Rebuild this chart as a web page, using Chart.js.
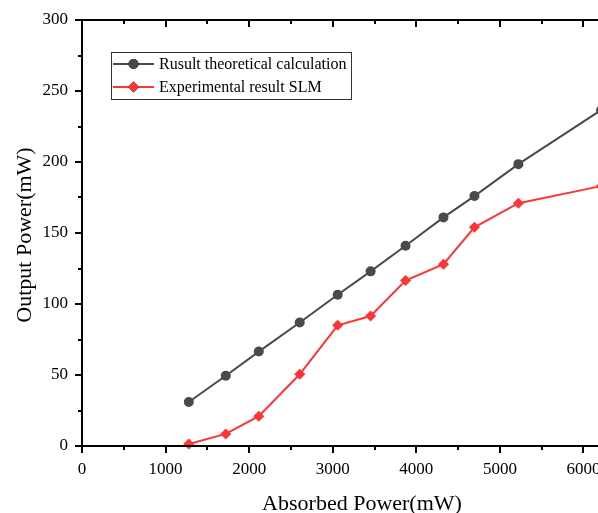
<!DOCTYPE html>
<html>
<head>
<meta charset="utf-8">
<script src="https://cdn.jsdelivr.net/npm/chart.js@4/dist/chart.umd.min.js"></script>
<style>
  html, body { margin: 0; padding: 0; background: #fff; overflow: hidden; }
  #wrap { position: absolute; left: 0; top: 0; width: 660px; height: 513px; }
</style>
</head>
<body>
<div id="wrap"><canvas id="chart" width="660" height="513"></canvas></div>
<script>
// données
const absorbedPower = [1278, 1720, 2115, 2605, 3059, 3453, 3871, 4325, 4695, 5221, 6210];
const theoryOutput = [31, 49.5, 66.5, 87, 106.5, 123, 141, 161, 176, 198.5, 236.5];
const slmOutput = [1.4, 8.5, 21, 50.5, 85, 91.5, 116.5, 128, 154, 171, 183];

const seriesLabels = ['Rusult theoretical calculation', 'Experimental result SLM'];
const xTickLabels = ['0', '1000', '2000', '3000', '4000', '5000', '6000'];
const xTitle = 'Absorbed Power(mW)';
const yTitle = 'Output Power(mW)';

const xMin = 0, xMax = 6700, xMajor = 1000, xMinor = 500;
const yMin = 0, yMax = 300, yMajor = 50, yMinor = 25;

const serif = '"Liberation Serif", "Times New Roman", serif';
const grey = '#4a4a4a';
const red = '#ff3434';

// axes, graduations, titres et légende dessinés à la main
const framePlugin = {
  id: 'frame',
  afterDraw(chart) {
    const ctx = chart.ctx;
    const area = chart.chartArea;
    const xs = chart.scales.x;
    const ys = chart.scales.y;
    ctx.save();
    ctx.strokeStyle = '#000';
    ctx.lineWidth = 2;
    ctx.lineCap = 'square';

    // lignes d'axe
    ctx.beginPath();
    ctx.moveTo(area.left, area.top);
    ctx.lineTo(area.left, area.bottom);
    ctx.lineTo(area.right, area.bottom);
    ctx.moveTo(area.left, area.top);
    ctx.lineTo(area.right, area.top);
    ctx.stroke();

    ctx.lineCap = 'butt';
    ctx.beginPath();
    for (let v = xMin; v <= xMax; v += xMinor) {
      const px = Math.round(xs.getPixelForValue(v));
      const len = v % xMajor === 0 ? 7 : 4;
      ctx.moveTo(px, area.bottom);
      ctx.lineTo(px, area.bottom + len);
      ctx.moveTo(px, area.top);
      ctx.lineTo(px, area.top + len);
    }
    for (let v = yMin; v <= yMax; v += yMinor) {
      const py = Math.round(ys.getPixelForValue(v));
      const len = v % yMajor === 0 ? 7 : 4;
      ctx.moveTo(area.left, py);
      ctx.lineTo(area.left - len, py);
    }
    ctx.stroke();

    // étiquettes de l'axe x
    ctx.fillStyle = '#000';
    ctx.font = '17px ' + serif;
    ctx.textAlign = 'center';
    ctx.textBaseline = 'alphabetic';
    xTickLabels.forEach(t => {
      ctx.fillText(t, xs.getPixelForValue(Number(t)), 474);
    });

    // titres des axes
    ctx.font = '22px ' + serif;
    ctx.fillText(xTitle, (area.left + area.right) / 2, 510);
    ctx.save();
    ctx.translate(31, (area.top + area.bottom) / 2 + 2);
    ctx.rotate(-Math.PI / 2);
    ctx.fillText(yTitle, 0, 0);
    ctx.restore();

    // légende
    ctx.lineWidth = 1;
    ctx.strokeStyle = '#333';
    ctx.strokeRect(111.5, 52.5, 240, 47);
    ctx.font = '16px ' + serif;
    ctx.textAlign = 'left';
    ctx.textBaseline = 'middle';
    chart.data.datasets.forEach((ds, i) => {
      const y = 64 + i * 23;
      ctx.strokeStyle = ds.borderColor;
      ctx.lineWidth = 2;
      ctx.beginPath();
      ctx.moveTo(113, y);
      ctx.lineTo(154, y);
      ctx.stroke();
      Chart.helpers.drawPoint(ctx, {
        pointStyle: ds.pointStyle,
        radius: ds.pointRadius,
        borderWidth: 0,
        rotation: 0
      }, 133.5, y);
      ctx.fillStyle = ds.pointBackgroundColor;
      ctx.fill();
      ctx.fillStyle = '#000';
      ctx.fillText(ds.label, 159, y + 1);
    });
    ctx.restore();
  }
};

const ctx = document.getElementById('chart').getContext('2d');
new Chart(ctx, {
  type: 'line',
  data: {
    datasets: [
      {
        label: seriesLabels[0],
        data: absorbedPower.map((x, i) => ({ x, y: theoryOutput[i] })),
        borderColor: grey,
        backgroundColor: grey,
        pointBackgroundColor: grey,
        pointBorderColor: grey,
        pointBorderWidth: 0,
        pointStyle: 'circle',
        pointRadius: 5,
        borderWidth: 2,
        tension: 0
      },
      {
        label: seriesLabels[1],
        data: absorbedPower.map((x, i) => ({ x, y: slmOutput[i] })),
        borderColor: red,
        backgroundColor: red,
        pointBackgroundColor: red,
        pointBorderColor: red,
        pointBorderWidth: 0,
        pointStyle: 'rectRot',
        pointRadius: 5.5,
        borderWidth: 2,
        tension: 0
      }
    ]
  },
  options: {
    responsive: false,
    animation: false,
    events: [],
    clip: false,
    layout: { padding: { left: 0, top: 20, right: 18, bottom: 0 } },
    plugins: {
      legend: { display: false },
      tooltip: { enabled: false }
    },
    scales: {
      x: {
        type: 'linear',
        min: xMin,
        max: xMax,
        border: { display: false },
        grid: { display: false, drawTicks: false },
        ticks: { display: false },
        afterFit(s) { s.height = 67; s.paddingLeft = 0; s.paddingRight = 0; }
      },
      y: {
        min: yMin,
        max: yMax,
        border: { display: false },
        grid: { display: false, drawTicks: false },
        ticks: {
          stepSize: yMajor,
          padding: 14,
          color: '#000',
          font: { family: serif, size: 17 }
        },
        afterFit(s) { s.width = 82; s.paddingTop = 0; s.paddingBottom = 0; }
      }
    }
  },
  plugins: [framePlugin]
});
</script>
</body>
</html>
